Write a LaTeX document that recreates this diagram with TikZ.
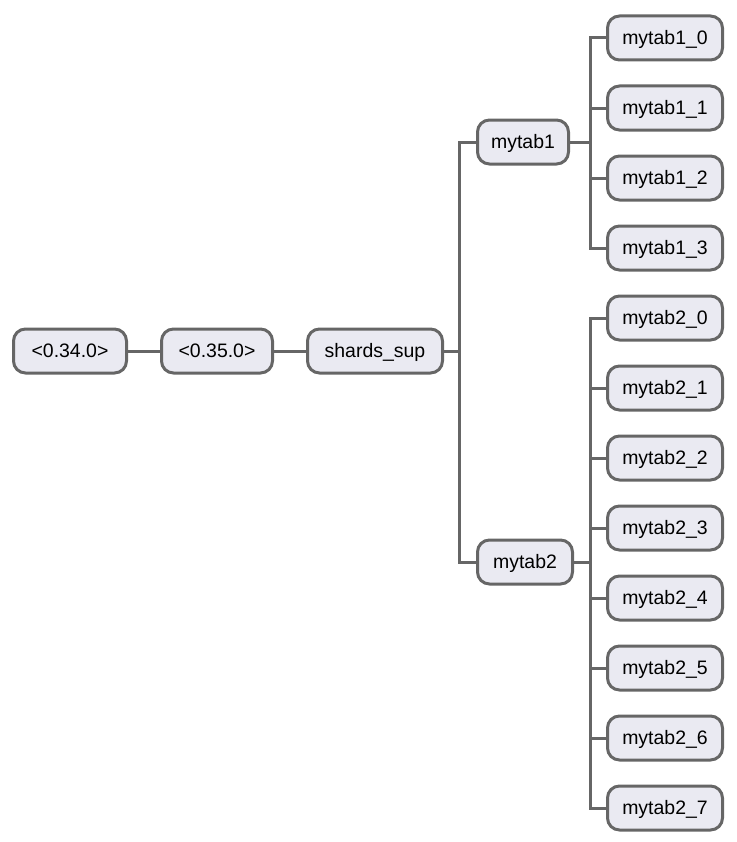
\documentclass[tikz,border=0pt]{standalone}
\usepackage{fontspec}
\setsansfont{Liberation Sans}

\definecolor{boxfill}{RGB}{234,234,242}
\definecolor{boxline}{RGB}{102,102,102}

\tikzset{every picture/.style={line width=0.75pt}}
\tikzset{
  tbox/.style={draw=boxline, fill=boxfill, line width=2.25pt, rounded corners=9pt,
    minimum height=33pt, inner xsep=0pt, text height=10.2pt, text depth=0.4pt,
    font=\sffamily\fontsize{14.6}{17}\selectfont, text=black},
  wire/.style={draw=boxline, line width=2.25pt}
}

\begin{document}
\begin{tikzpicture}[x=0.75pt,y=0.75pt,yscale=-1,xscale=1]
\useasboundingbox (0,0) rectangle (736,842);

% Version nodes
\node [tbox, minimum width=84.75pt] (v34) at (70,351) {<0.34.0>};
\node [tbox, minimum width=83.25pt] (v35) at (217,351) {<0.35.0>};
\node [tbox, minimum width=101.25pt] (sup) at (375,351) {shards\_sup};
% Tables
\node [tbox, minimum width=68.25pt] (tab1) at (523,142) {mytab1};
\node [tbox, minimum width=71.25pt] (tab2) at (525,562) {mytab2};

\draw [wire] (v34) -- (v35);
\draw [wire] (v35) -- (sup);
\draw [wire] (sup.east) -- ++(15,0) coordinate (bsup);
\draw [wire] (bsup) |- (tab1.west);
\draw [wire] (bsup) |- (tab2.west);

% Shards of mytab1
\draw [wire] (tab1.east) -- ++(20,0) coordinate (btab1);
\foreach \i in {0,...,3} {
  \node [tbox, minimum width=86.25pt] (s1\i) at (665,38+70*\i) {mytab1\_\i};
  \draw [wire] (btab1) |- (s1\i.west);
}

% Shards of mytab2
\draw [wire] (tab2.east) -- ++(16,0) coordinate (btab2);
\foreach \i in {0,...,7} {
  \node [tbox, minimum width=86.25pt] (s2\i) at (665,318+70*\i) {mytab2\_\i};
  \draw [wire] (btab2) |- (s2\i.west);
}

\end{tikzpicture}
\end{document}
